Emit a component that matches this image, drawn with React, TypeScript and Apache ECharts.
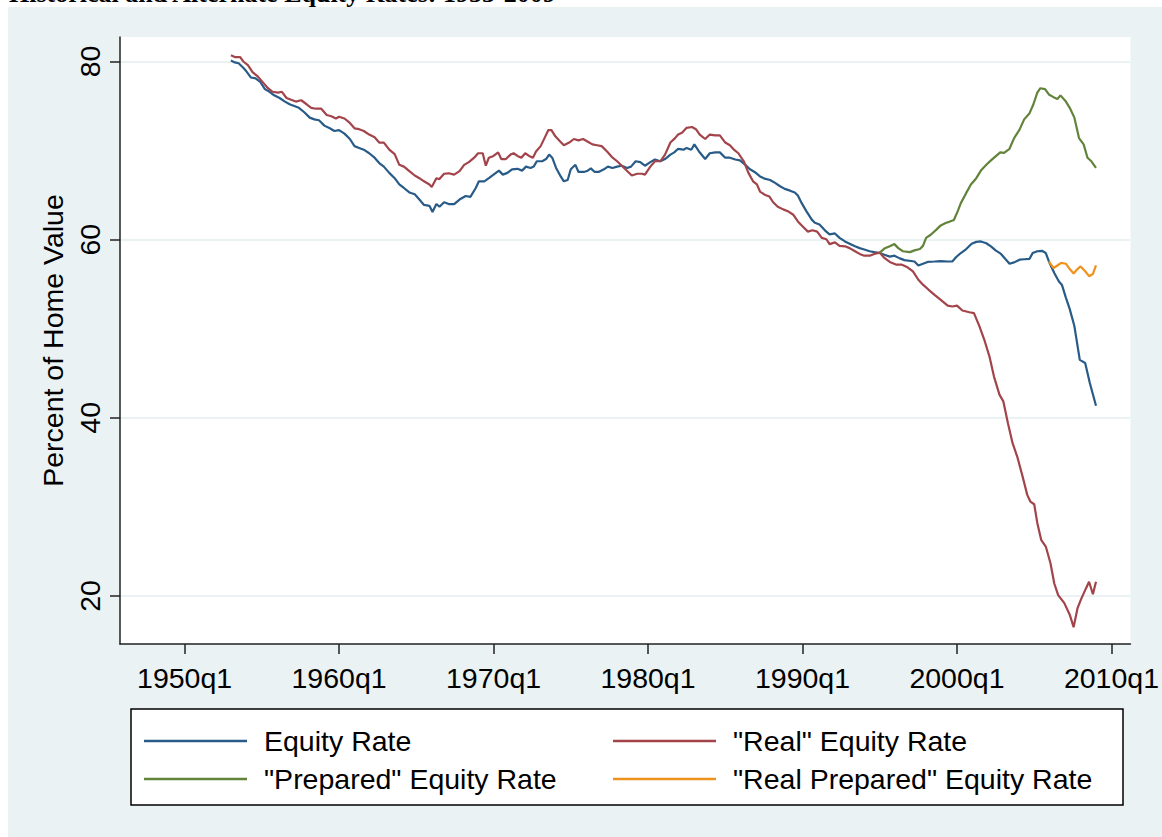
import React, { useEffect, useRef } from "react";
import * as echarts from "echarts";

const FONT = "Liberation Sans";
const TITLE = "Historical and Alternate Equity Rates: 1953-2009";
const Y_NAME = "Percent of Home Value";

const xTickYears = [1950, 1960, 1970, 1980, 1990, 2000, 2010];
const yTicks = [20, 40, 60, 80];

const NAME_EQ = "Equity Rate";
const NAME_REAL = "\"Real\" Equity Rate";
const NAME_PREP = "\"Prepared\" Equity Rate";
const NAME_REALPREP = "\"Real Prepared\" Equity Rate";

const equityRate: [number, number][] = [
  [1953.0, 80.1], [1953.25, 79.9], [1953.5, 79.8], [1953.8, 79.3], [1954.0, 78.9], [1954.3, 78.2], [1954.6, 78.1], [1954.9, 77.7],
  [1955.2, 76.9], [1955.5, 76.6], [1955.8, 76.2], [1956.15, 75.9], [1956.5, 75.5], [1956.8, 75.2], [1957.1, 75.0], [1957.4, 74.8],
  [1957.75, 74.3], [1958.1, 73.7], [1958.4, 73.5], [1958.7, 73.4], [1959.05, 72.8], [1959.4, 72.5], [1959.7, 72.2], [1960.0, 72.3],
  [1960.35, 71.9], [1960.7, 71.3], [1961.0, 70.5], [1961.3, 70.3], [1961.6, 70.1], [1961.95, 69.7], [1962.3, 69.2], [1962.6, 68.6],
  [1962.9, 68.2], [1963.25, 67.5], [1963.6, 66.9], [1963.9, 66.2], [1964.2, 65.8], [1964.55, 65.3], [1964.9, 65.1], [1965.2, 64.5],
  [1965.5, 63.9], [1965.85, 63.8], [1966.05, 63.1], [1966.3, 64.0], [1966.5, 63.7], [1966.8, 64.2], [1967.1, 64.0], [1967.45, 64.0],
  [1967.8, 64.5], [1968.2, 64.9], [1968.5, 64.8], [1968.85, 65.8], [1969.05, 66.55], [1969.4, 66.55], [1969.7, 66.9], [1970.0, 67.3],
  [1970.35, 67.75], [1970.6, 67.3], [1970.9, 67.5], [1971.2, 67.9], [1971.55, 67.95], [1971.85, 67.75], [1972.1, 68.2], [1972.4, 68.05],
  [1972.6, 68.2], [1972.8, 68.8], [1973.15, 68.8], [1973.4, 69.05], [1973.6, 69.55], [1973.8, 69.2], [1974.05, 68.05], [1974.35, 67.1],
  [1974.55, 66.55], [1974.8, 66.7], [1975.0, 67.9], [1975.3, 68.4], [1975.5, 67.6], [1975.85, 67.6], [1976.05, 67.7], [1976.3, 68.0],
  [1976.55, 67.6], [1976.8, 67.6], [1977.15, 67.9], [1977.4, 68.2], [1977.7, 68.05], [1978.0, 68.2], [1978.3, 68.3], [1978.65, 68.05],
  [1978.9, 68.2], [1979.2, 68.8], [1979.5, 68.7], [1979.8, 68.3], [1980.15, 68.7], [1980.45, 69.0], [1980.8, 68.8], [1981.1, 69.05],
  [1981.45, 69.55], [1981.7, 69.8], [1981.95, 70.2], [1982.3, 70.1], [1982.5, 70.3], [1982.8, 70.1], [1983.0, 70.7], [1983.3, 69.9],
  [1983.7, 69.05], [1984.0, 69.7], [1984.35, 69.8], [1984.65, 69.8], [1985.0, 69.2], [1985.3, 69.2], [1985.65, 69.0], [1985.95, 68.9],
  [1986.3, 68.4], [1986.6, 67.9], [1986.9, 67.6], [1987.25, 67.1], [1987.55, 66.85], [1987.9, 66.7], [1988.2, 66.4], [1988.55, 66.0],
  [1988.85, 65.7], [1989.2, 65.5], [1989.5, 65.3], [1989.7, 64.95], [1989.95, 64.1], [1990.25, 63.2], [1990.6, 62.25], [1990.8, 61.9],
  [1991.1, 61.7], [1991.45, 61.05], [1991.75, 60.6], [1992.1, 60.7], [1992.4, 60.2], [1992.75, 59.8], [1993.05, 59.55], [1993.4, 59.25],
  [1993.7, 59.05], [1994.0, 58.9], [1994.35, 58.7], [1994.65, 58.6], [1995.0, 58.5], [1995.3, 58.3], [1995.65, 58.1], [1995.95, 58.2],
  [1996.3, 57.9], [1996.6, 57.7], [1997.25, 57.55], [1997.5, 57.1], [1997.8, 57.3], [1998.1, 57.5], [1998.55, 57.55], [1998.95, 57.6],
  [1999.4, 57.55], [1999.7, 57.55], [1999.95, 58.05], [2000.25, 58.5], [2000.6, 58.95], [2000.95, 59.55], [2001.25, 59.75], [2001.55, 59.8],
  [2001.9, 59.6], [2002.2, 59.25], [2002.5, 58.8], [2002.85, 58.4], [2003.05, 58.0], [2003.4, 57.3], [2003.7, 57.45], [2004.05, 57.75],
  [2004.35, 57.8], [2004.7, 57.85], [2004.9, 58.5], [2005.2, 58.7], [2005.5, 58.75], [2005.75, 58.5], [2005.95, 57.55], [2006.3, 56.25],
  [2006.6, 55.3], [2006.8, 54.9], [2007.05, 53.5], [2007.3, 52.2], [2007.6, 50.3], [2007.95, 46.5], [2008.3, 46.15], [2008.6, 43.9],
  [2009.0, 41.35],
];

const realEquityRate: [number, number][] = [
  [1953.0, 80.7], [1953.25, 80.5], [1953.6, 80.5], [1953.8, 80.0], [1954.1, 79.6], [1954.4, 78.8], [1954.75, 78.3], [1955.1, 77.6],
  [1955.4, 77.0], [1955.7, 76.6], [1956.05, 76.5], [1956.3, 76.6], [1956.6, 75.9], [1956.9, 75.7], [1957.2, 75.5], [1957.55, 75.65],
  [1957.9, 75.2], [1958.2, 74.8], [1958.5, 74.7], [1958.85, 74.7], [1959.2, 74.0], [1959.5, 73.85], [1959.8, 73.6], [1960.0, 73.8],
  [1960.35, 73.6], [1960.7, 73.1], [1961.0, 72.5], [1961.3, 72.4], [1961.6, 72.2], [1961.95, 71.8], [1962.3, 71.5], [1962.6, 70.9],
  [1962.9, 70.9], [1963.25, 70.1], [1963.6, 69.6], [1963.9, 68.4], [1964.2, 68.2], [1964.55, 67.7], [1964.9, 67.2], [1965.2, 66.9],
  [1965.5, 66.55], [1965.85, 66.2], [1966.0, 65.9], [1966.3, 66.9], [1966.5, 66.8], [1966.8, 67.4], [1967.1, 67.45], [1967.45, 67.3],
  [1967.8, 67.7], [1968.1, 68.4], [1968.4, 68.7], [1968.75, 69.2], [1969.0, 69.7], [1969.3, 69.7], [1969.5, 68.3], [1969.7, 69.2],
  [1970.0, 69.4], [1970.3, 69.8], [1970.5, 69.05], [1970.8, 69.05], [1971.1, 69.55], [1971.3, 69.7], [1971.55, 69.4], [1971.8, 69.2],
  [1972.05, 69.7], [1972.3, 69.4], [1972.55, 69.2], [1972.75, 69.9], [1973.05, 70.5], [1973.3, 71.4], [1973.55, 72.3], [1973.75, 72.3],
  [1974.0, 71.6], [1974.3, 71.05], [1974.55, 70.6], [1974.9, 70.9], [1975.2, 71.3], [1975.5, 71.15], [1975.8, 71.3], [1976.05, 71.05],
  [1976.4, 70.7], [1976.7, 70.6], [1977.0, 70.5], [1977.35, 69.9], [1977.65, 69.3], [1978.0, 68.8], [1978.3, 68.3], [1978.65, 67.7],
  [1978.95, 67.2], [1979.3, 67.4], [1979.6, 67.4], [1979.8, 67.3], [1980.15, 68.2], [1980.45, 68.8], [1980.8, 68.8], [1981.1, 69.55],
  [1981.45, 70.9], [1981.75, 71.4], [1981.95, 71.8], [1982.2, 72.0], [1982.5, 72.55], [1982.85, 72.65], [1983.1, 72.4], [1983.35, 71.8],
  [1983.7, 71.3], [1984.0, 71.8], [1984.35, 71.7], [1984.65, 71.7], [1985.0, 70.9], [1985.3, 70.6], [1985.6, 70.05], [1985.85, 69.7],
  [1986.2, 68.8], [1986.5, 67.5], [1986.8, 66.55], [1987.05, 66.2], [1987.25, 65.4], [1987.55, 65.05], [1987.85, 64.85], [1988.1, 64.2],
  [1988.4, 63.7], [1988.75, 63.4], [1989.05, 63.2], [1989.4, 62.8], [1989.7, 62.05], [1990.0, 61.5], [1990.35, 60.9], [1990.65, 61.05],
  [1990.95, 60.9], [1991.25, 60.2], [1991.55, 60.05], [1991.75, 59.5], [1992.1, 59.7], [1992.4, 59.3], [1992.75, 59.25], [1993.05, 59.05],
  [1993.4, 58.7], [1993.7, 58.4], [1994.0, 58.2], [1994.35, 58.2], [1994.65, 58.4], [1995.0, 58.55], [1995.3, 57.95], [1995.65, 57.5],
  [1996.05, 57.2], [1996.4, 57.2], [1996.8, 56.9], [1997.15, 56.45], [1997.5, 55.5], [1997.8, 54.95], [1998.15, 54.4], [1998.55, 53.8],
  [1998.95, 53.25], [1999.4, 52.6], [1999.7, 52.5], [2000.0, 52.6], [2000.35, 52.05], [2000.8, 51.85], [2001.1, 51.75], [2001.45, 50.3],
  [2001.8, 48.6], [2002.1, 46.9], [2002.4, 44.6], [2002.75, 42.6], [2003.0, 41.85], [2003.3, 39.4], [2003.6, 37.15], [2003.9, 35.65],
  [2004.25, 33.4], [2004.55, 31.35], [2004.75, 30.6], [2005.0, 30.3], [2005.2, 28.2], [2005.45, 26.3], [2005.75, 25.55], [2006.05, 23.7],
  [2006.3, 21.4], [2006.55, 20.1], [2006.95, 19.2], [2007.3, 17.9], [2007.55, 16.5], [2007.8, 18.6], [2008.05, 19.7], [2008.35, 20.85],
  [2008.55, 21.6], [2008.8, 20.2], [2009.0, 21.6],
];

const preparedEquityRate: [number, number][] = [
  [1995.0, 58.55], [1995.3, 59.0], [1995.65, 59.25], [1995.95, 59.5], [1996.2, 59.05], [1996.5, 58.7], [1996.95, 58.6], [1997.25, 58.8],
  [1997.6, 58.95], [1997.8, 59.3], [1998.0, 60.2], [1998.3, 60.55], [1998.65, 61.1], [1998.95, 61.6], [1999.3, 61.9], [1999.5, 62.0],
  [1999.8, 62.2], [2000.05, 63.2], [2000.25, 64.1], [2000.6, 65.25], [2000.9, 66.2], [2001.25, 66.9], [2001.55, 67.75], [2001.9, 68.4],
  [2002.2, 68.9], [2002.5, 69.35], [2002.8, 69.8], [2003.05, 69.75], [2003.4, 70.2], [2003.7, 71.4], [2004.05, 72.35], [2004.35, 73.5],
  [2004.7, 74.2], [2004.95, 75.2], [2005.2, 76.5], [2005.4, 77.0], [2005.7, 76.9], [2005.95, 76.3], [2006.25, 76.0], [2006.5, 75.8],
  [2006.7, 76.2], [2007.05, 75.5], [2007.3, 74.8], [2007.6, 73.7], [2007.9, 71.4], [2008.2, 70.7], [2008.45, 69.2], [2008.7, 68.8],
  [2009.0, 68.05],
];

const realPreparedEquityRate: [number, number][] = [
  [2005.95, 57.55], [2006.25, 56.8], [2006.5, 57.1], [2006.75, 57.4], [2007.05, 57.3], [2007.3, 56.7], [2007.55, 56.2], [2007.8, 56.7],
  [2008.0, 57.0], [2008.3, 56.45], [2008.55, 55.9], [2008.8, 56.15], [2009.0, 57.1],
];

const X_MIN = 1945.82;
const X_MAX = 2011.23;
const Y_MIN = 14.61;
const Y_MAX = 82.75;

const C_BLUE = "#285B87";
const C_RED = "#A2444A";
const C_GREEN = "#62833A";
const C_ORANGE = "#EE921F";
const AXIS_COLOR = "#222";
const FS = 28.5;

export default function App() {
  const ref = useRef<HTMLDivElement>(null);
  useEffect(() => {
    if (!ref.current) return;
    const chart = echarts.init(ref.current, null, { renderer: "svg" });
    const line = (name: string, data: [number, number][], color: string) => ({
      name,
      type: "line",
      data,
      symbol: "none",
      showSymbol: false,
      color,
      lineStyle: { color, width: 2.2 },
    });
    const legendCommon = {
      orient: "vertical",
      padding: 0,
      icon: "rect",
      itemWidth: 103,
      itemHeight: 2.4,
      itemGap: 8,
      selectedMode: false,
      textStyle: { fontFamily: FONT, fontSize: FS, color: "#000", lineHeight: 30, padding: [0, 0, 0, 12] },
    };
    chart.setOption({
      animation: false,
      textStyle: { fontFamily: FONT },
      graphic: [
        {
          type: "text",
          z: 10,
          style: {
            text: TITLE,
            x: 9,
            y: -6.5,
            verticalAlign: "middle",
            font: "bold 26px 'Liberation Serif'",
            fill: "#000",
          },
        },
        {
          type: "rect",
          z: 0,
          shape: { x: 131, y: 709, width: 992, height: 96 },
          style: { fill: "#fff", stroke: "#000", lineWidth: 1.5 },
        },
      ],
      grid: {
        left: 120,
        right: 29,
        top: 37,
        bottom: 193,
        show: true,
        backgroundColor: "#fff",
        borderWidth: 0,
      },
      legend: [
        { ...legendCommon, left: 144, top: 726, data: [NAME_EQ, NAME_PREP] },
        { ...legendCommon, left: 613, top: 726, data: [NAME_REAL, NAME_REALPREP] },
      ],
      xAxis: {
        type: "value",
        min: X_MIN,
        max: X_MAX,
        axisLine: { show: true, onZero: false, lineStyle: { color: AXIS_COLOR, width: 1.5 } },
        axisTick: { show: true, customValues: xTickYears, length: 10, lineStyle: { color: AXIS_COLOR, width: 1.5 } },
        axisLabel: {
          customValues: xTickYears,
          formatter: (v: number) => `${Math.round(v)}q1`,
          fontFamily: FONT,
          fontSize: FS,
          color: "#000",
          margin: 19,
        },
        splitLine: { show: false },
      },
      yAxis: {
        type: "value",
        min: Y_MIN,
        max: Y_MAX,
        name: Y_NAME,
        nameLocation: "middle",
        nameGap: 40,
        nameTextStyle: { fontFamily: FONT, fontSize: FS, color: "#000" },
        axisLine: { show: true, onZero: false, lineStyle: { color: AXIS_COLOR, width: 1.5 } },
        axisTick: { show: true, customValues: yTicks, length: 10, lineStyle: { color: AXIS_COLOR, width: 1.5 } },
        axisLabel: {
          customValues: yTicks,
          rotate: 90,
          fontFamily: FONT,
          fontSize: FS,
          color: "#000",
          margin: 16,
        },
        splitLine: { show: true, lineStyle: { color: "#EAF2F3", width: 2 } },
      },
      series: [
        line(NAME_EQ, equityRate, C_BLUE),
        line(NAME_REAL, realEquityRate, C_RED),
        line(NAME_PREP, preparedEquityRate, C_GREEN),
        line(NAME_REALPREP, realPreparedEquityRate, C_ORANGE),
      ],
    });
    return () => chart.dispose();
  }, []);
  return (
    <div style={{ position: "absolute", left: 0, top: 0, width: 1162, height: 837, overflow: "hidden" }}>
      <div style={{ position: "absolute", left: 8, top: 7, right: 0, bottom: 0, background: "#EAF2F3" }} />
      <div ref={ref} style={{ position: "absolute", left: 0, top: 0, width: 1162, height: 837 }} />
    </div>
  );
}
